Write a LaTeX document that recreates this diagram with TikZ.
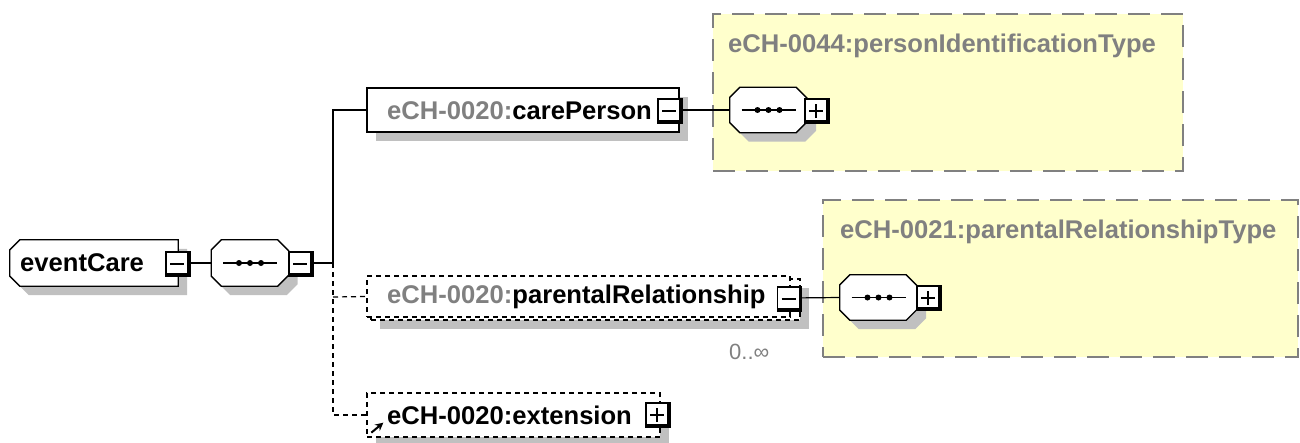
\documentclass[tikz,border=0pt]{standalone}
\usepackage{fontspec}
\setmainfont{Liberation Sans}
\usetikzlibrary{shadows,arrows.meta}
\definecolor{typefill}{RGB}{255,255,204}
\definecolor{typeborder}{RGB}{128,128,128}
\definecolor{nsgray}{RGB}{128,128,128}
\definecolor{shadowgray}{RGB}{192,192,192}
\newcommand\octpath[3]{([xshift=#2]#1.north west) -- ([xshift=-#3]#1.north east) -- ([yshift=-#3]#1.north east) -- ([yshift=#3]#1.south east) -- ([xshift=-#3]#1.south east) -- ([xshift=#2]#1.south west) -- ([yshift=#2]#1.south west) -- ([yshift=-#2]#1.north west) -- cycle}
\newcommand\octdraw[3]{%
  \begin{scope}[transform canvas={xshift=9pt,yshift=-9pt}]\fill[shadowgray] \octpath{#1}{#2}{#3};\end{scope}
  \draw[line width=1.3pt, fill=white] \octpath{#1}{#2}{#3};}
\newcommand\seqicon[1]{%
  \draw[line width=1.3pt] ([xshift=-27pt]#1.center) -- ([xshift=27pt]#1.center);
  \fill[black] ([xshift=-11pt]#1.center) circle (3pt) (#1.center) circle (3pt) ([xshift=11pt]#1.center) circle (3pt);}
\tikzset{
  shad/.style={drop shadow={shadow xshift=9pt,shadow yshift=-9pt,fill=shadowgray,opacity=1}},
  elembox/.style={rectangle, draw, line width=1.3pt, fill=white, inner sep=0pt, minimum height=44pt},
  optbox/.style={elembox, dash pattern=on 5pt off 4pt},
  holder/.style={rectangle, inner sep=0pt, minimum width=77pt, minimum height=46pt},
  btn/.style={rectangle, draw, fill=white, line width=1.2pt, minimum size=24pt, inner sep=0pt},
  btnminus/.style={btn, path picture={
      \draw[line width=6pt] (path picture bounding box.north east) -- (path picture bounding box.south east) -- (path picture bounding box.south west);
      \draw[line width=1.1pt] ([xshift=-8pt]path picture bounding box.center) -- ([xshift=6pt]path picture bounding box.center);}},
  btnplus/.style={btn, path picture={
      \draw[line width=6pt] (path picture bounding box.north east) -- (path picture bounding box.south east) -- (path picture bounding box.south west);
      \draw[line width=1.1pt] ([xshift=-8pt]path picture bounding box.center) -- ([xshift=6pt]path picture bounding box.center)
                            ([xshift=-1pt,yshift=-7pt]path picture bounding box.center) -- ([xshift=-1pt,yshift=7pt]path picture bounding box.center);}},
  typebox/.style={rectangle, draw=typeborder, fill=typefill, line width=2pt, dash pattern=on 22pt off 11pt, inner sep=0pt},
  lbl/.style={font=\fontsize{25.6}{30}\selectfont\bfseries, inner sep=0pt, anchor=west},
  conn/.style={line width=1.2pt},
  optconn/.style={line width=1.2pt, dash pattern=on 5pt off 4pt},
}
\begin{document}
\begin{tikzpicture}[x=1pt,y=-1pt]
\useasboundingbox (0,0) rectangle (1300,442);
% complex type boxes
\node[typebox, minimum width=470pt, minimum height=157pt] (type1) at (948,92.5) {};
\node[typebox, minimum width=475pt, minimum height=157pt] (type2) at (1060.5,278.5) {};
\node[lbl, text=nsgray] (t1lbl) at (728,46) {eCH-0044:personIdentificationType};
\node[lbl, text=nsgray] (t2lbl) at (840,232) {eCH-0021:parentalRelationshipType};
% holders for octagonal shapes
\node[holder, minimum width=168pt] (root) at (94,263) {};
\node[holder] (seq1) at (250,263) {};
\node[holder, minimum height=45pt] (seq2) at (768.5,110) {};
\node[holder, minimum height=45pt] (seq3) at (878.5,297.5) {};
% element boxes
\node[elembox, minimum width=312pt, shad] (care) at (523,110) {};
\node[optbox, minimum width=429pt, minimum height=41pt, shad] (parback) at (585.5,299.5) {};
\node[optbox, minimum width=423pt, minimum height=41pt] (par) at (578.5,296.5) {};
\node[optbox, minimum width=293pt, shad] (ext) at (513.5,415) {};
\coordinate (trunk) at (333,263);
\coordinate (tcare) at (333,110);
\coordinate (tpar) at (333,297);
\coordinate (text) at (333,415);
% connectors
\draw[conn] (root.east) -- (seq1.west);
\draw[conn] (seq1.east) -- (trunk) -- (tcare) -- (care.west);
\draw[optconn] (trunk) -- (text) -- (ext.west);
\draw[optconn] (tpar) -- (par.west);
\draw[conn] (care.east) -- (seq2.west);
\draw[conn] ([yshift=-1.5pt]par.east) -- (seq3.west);
% root element
\octdraw{root}{10pt}{0pt}
\node[lbl] (rootlbl) at (20,263) {eventCare};
\node[btnminus] (rootbtn) at (178,264) {};
% sequences
\octdraw{seq1}{10pt}{11pt}\seqicon{seq1}
\node[btnminus] (seq1btn) at (301,264) {};
\octdraw{seq2}{10pt}{11pt}\seqicon{seq2}
\node[btnplus] (seq2btn) at (817,111) {};
\octdraw{seq3}{10pt}{11pt}\seqicon{seq3}
\node[btnplus] (seq3btn) at (929,298) {};
% element labels and buttons
\node[lbl] (carelbl) at (387,111) {\textcolor{nsgray}{eCH-0020:}carePerson};
\node[btnminus] (carebtn) at (670,111) {};
\node[lbl] (parlbl) at (387,297) {\textcolor{nsgray}{eCH-0020:}parentalRelationship};
\node[btnminus] (parbtn) at (789.5,299) {};
\node[font=\fontsize{22}{26}\selectfont, text=nsgray, anchor=west, inner sep=0pt] (mult) at (729,352) {0..∞};
\node[lbl] (extlbl) at (387,415) {eCH-0020:extension};
\node[btnplus] (extbtn) at (658,415) {};
\draw[line width=2pt, -{Stealth[length=8pt,width=8pt]}] ([shift={(5,-5)}]ext.south west) coordinate (refa) -- ([shift={(17,-15)}]ext.south west) coordinate (refb);
\end{tikzpicture}
\end{document}
